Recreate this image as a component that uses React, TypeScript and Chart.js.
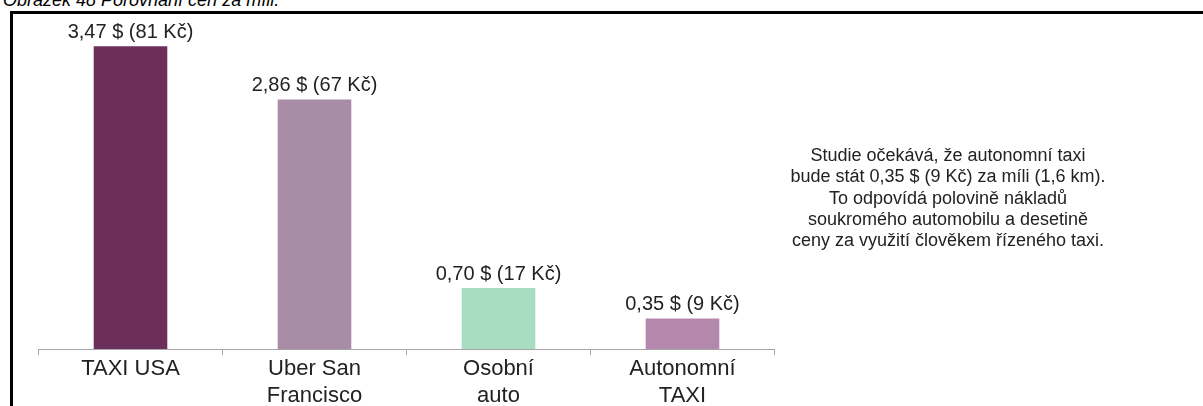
import React, { useEffect, useRef } from 'react';
import { Chart, registerables } from 'chart.js';

Chart.register(...registerables);

// Cost per mile by mode of transport
const categories: string[][] = [
  ['TAXI USA'],
  ['Uber San', 'Francisco'],
  ['Osobní', 'auto'],
  ['Autonomní', 'TAXI'],
];
const usdPerMile: number[] = [3.47, 2.86, 0.7, 0.35];
const czkPerMile: number[] = [81, 67, 17, 9];
const barColors: string[] = ['#6C2F5C', '#A98DA6', '#A9DDC1', '#B488AC'];

const captionText = 'Obrázek 48 Porovnání cen za míli.';
const noteLines: string[] = [
  'Studie očekává, že autonomní taxi',
  'bude stát 0,35 $ (9 Kč) za míli (1,6 km).',
  'To odpovídá polovině nákladů',
  'soukromého automobilu a desetině',
  'ceny za využití člověkem řízeného taxi.',
];

const FONT = '"Liberation Sans", Arial, Helvetica, sans-serif';
const TEXT_COLOR = '#222222';
const AXIS_COLOR = '#A6A6A6';

const formatLabel = (usd: number, czk: number) =>
  `${usd.toFixed(2).replace('.', ',')} $ (${czk} Kč)`;

// Draws "x,xx $ (nn Kč)" above each bar
const valueLabels = {
  id: 'valueLabels',
  afterDatasetsDraw(chart: any) {
    const ctx = chart.ctx as CanvasRenderingContext2D;
    const meta = chart.getDatasetMeta(0);
    ctx.save();
    ctx.font = `20px ${FONT}`;
    ctx.fillStyle = TEXT_COLOR;
    ctx.textAlign = 'center';
    ctx.textBaseline = 'alphabetic';
    meta.data.forEach((bar: any, i: number) => {
      ctx.fillText(formatLabel(usdPerMile[i], czkPerMile[i]), bar.x, bar.y - 8);
    });
    ctx.restore();
  },
};

export default function App() {
  const canvasRef = useRef<HTMLCanvasElement | null>(null);

  useEffect(() => {
    if (!canvasRef.current) return;
    const chart = new Chart(canvasRef.current, {
      type: 'bar',
      data: {
        labels: categories,
        datasets: [
          {
            data: usdPerMile,
            backgroundColor: barColors,
            borderWidth: 0,
            categoryPercentage: 0.5,
            barPercentage: 0.8,
          },
        ],
      },
      options: {
        animation: false,
        responsive: true,
        maintainAspectRatio: false,
        devicePixelRatio: 1,
        layout: { padding: { left: 38.5, right: 428.5, top: 0, bottom: 11 } },
        plugins: {
          legend: { display: false },
          tooltip: { enabled: false },
        },
        scales: {
          x: {
            grid: {
              display: true,
              drawOnChartArea: false,
              drawTicks: true,
              tickLength: 6,
              color: AXIS_COLOR,
              offset: true,
            },
            border: { display: true, color: AXIS_COLOR, width: 1 },
            ticks: {
              color: TEXT_COLOR,
              padding: 0,
              maxRotation: 0,
              autoSkip: false,
              font: { family: FONT, size: 22, lineHeight: 27 / 22 },
            },
          },
          y: { display: false, min: 0, max: 4 },
        },
      },
      plugins: [valueLabels],
    });
    return () => chart.destroy();
  }, []);

  return (
    <div
      style={{
        position: 'fixed',
        left: 0,
        top: 0,
        width: 1203,
        height: 406,
        overflow: 'hidden',
        background: '#ffffff',
        fontFamily: FONT,
      }}
    >
      <div
        style={{
          position: 'absolute',
          left: 3,
          top: -9,
          fontSize: 18,
          lineHeight: '18px',
          fontStyle: 'italic',
          color: '#000',
          whiteSpace: 'nowrap',
        }}
      >
        {captionText}
      </div>
      <div
        style={{
          position: 'absolute',
          left: 10,
          top: 11,
          width: 1200,
          height: 420,
          borderTop: '3px solid #000',
          borderLeft: '3px solid #000',
          boxSizing: 'border-box',
        }}
      />
      <div style={{ position: 'absolute', left: 0, top: 0, width: 1203, height: 420 }}>
        <canvas ref={canvasRef} />
      </div>
      <div
        style={{
          position: 'absolute',
          left: 748,
          top: 145,
          width: 400,
          textAlign: 'center',
          fontSize: 18,
          lineHeight: '21.3px',
          color: TEXT_COLOR,
        }}
      >
        {noteLines.map((line) => (
          <div key={line} style={{ whiteSpace: 'nowrap' }}>
            {line}
          </div>
        ))}
      </div>
    </div>
  );
}
